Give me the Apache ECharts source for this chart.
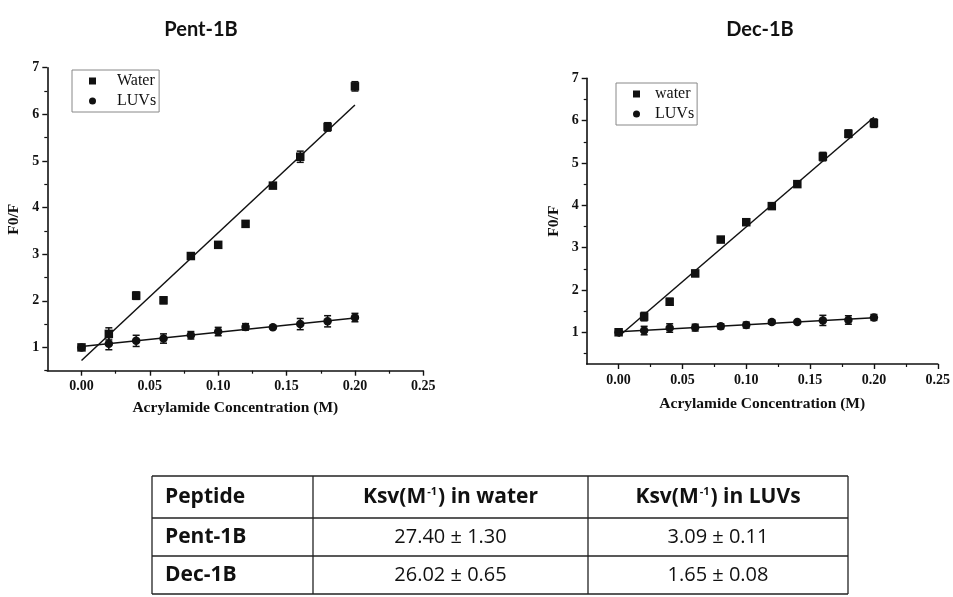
<!DOCTYPE html>
<html><head><meta charset="utf-8">
<script src="https://cdn.jsdelivr.net/npm/echarts@6/dist/echarts.min.js"></script>
<style>html,body{margin:0;padding:0;background:#fff}#c{width:953px;height:597px}</style>
</head><body><div id="c"></div>
<script>
// ---- data ----
const conc = [0, 0.02, 0.04, 0.06, 0.08, 0.10, 0.12, 0.14, 0.16, 0.18, 0.20];
const pentWater    = [1.00, 1.29, 2.11, 2.01, 2.96, 3.20, 3.65, 4.47, 5.09, 5.73, 6.60];
const pentWaterErr = [0.03, 0.13, 0.08, 0.07, 0.06, 0.04, 0.05, 0.04, 0.12, 0.09, 0.10];
const pentLuvs     = [1.00, 1.08, 1.14, 1.19, 1.26, 1.34, 1.44, 1.43, 1.50, 1.56, 1.64];
const pentLuvsErr  = [0.03, 0.13, 0.12, 0.10, 0.08, 0.09, 0.07, 0.03, 0.12, 0.12, 0.09];
const decWater     = [1.00, 1.37, 1.72, 2.39, 3.19, 3.60, 3.98, 4.50, 5.15, 5.69, 5.94];
const decWaterErr  = [0.03, 0.10, 0.08, 0.07, 0.04, 0.04, 0.04, 0.04, 0.10, 0.09, 0.10];
const decLuvs      = [1.00, 1.04, 1.10, 1.11, 1.14, 1.17, 1.24, 1.24, 1.28, 1.29, 1.35];
const decLuvsErr   = [0.03, 0.10, 0.10, 0.08, 0.06, 0.07, 0.05, 0.03, 0.12, 0.10, 0.07];
const fitX         = [0, 0.20];
const pentWaterFit = [0.72, 6.20];
const pentLuvsFit  = [1.02, 1.63];
const decWaterFit  = [0.90, 6.08];
const decLuvsFit   = [1.01, 1.34];
const xTicks      = [0, 0.05, 0.10, 0.15, 0.20, 0.25];
const xMinorTicks = [0.025, 0.075, 0.125, 0.175, 0.225];
const yTicks      = [1, 2, 3, 4, 5, 6, 7];
const yMinorTicks = [0.5, 1.5, 2.5, 3.5, 4.5, 5.5, 6.5];
const chartTitles = ['Pent-1B', 'Dec-1B'];
const tableHeader = ['Peptide', 'Ksv(M{sup|-1}) in water', 'Ksv(M{sup|-1}) in LUVs'];
const tablePeptides = ['Pent-1B', 'Dec-1B'];
const tableKsvWater = ['27.40 ± 1.30', '26.02 ± 0.65'];
const tableKsvLuvs  = ['3.09 ± 0.11', '1.65 ± 0.08'];

// ---- helpers ----
const pairs = (xs, ys) => xs.map((x, i) => [x, ys[i]]);
const errData = (xs, ys, es) => xs.map((x, i) => [x, ys[i] - es[i], ys[i] + es[i]]);
const serif = 'Liberation Serif';
const axisFont = {fontFamily: serif, fontWeight: 'bold', fontSize: 14, color: '#111'};
const nameFont = {fontFamily: serif, fontWeight: 'bold', fontSize: 15.5, color: '#111'};

function errorSeries(name, gi, data) {
  return {
    name: name, type: 'custom', xAxisIndex: gi * 2, yAxisIndex: gi * 2, data: data, z: 5,
    renderItem: function (params, api) {
      const x = api.value(0);
      const lo = api.coord([x, api.value(1)]);
      const hi = api.coord([x, api.value(2)]);
      const w = 3.5;
      const st = {stroke: '#111', lineWidth: 1.5};
      return {type: 'group', children: [
        {type: 'line', shape: {x1: lo[0], y1: lo[1], x2: hi[0], y2: hi[1]}, style: st},
        {type: 'line', shape: {x1: lo[0] - w, y1: lo[1], x2: lo[0] + w, y2: lo[1]}, style: st},
        {type: 'line', shape: {x1: hi[0] - w, y1: hi[1], x2: hi[0] + w, y2: hi[1]}, style: st}
      ]};
    }
  };
}
function xAxes(gi, gap) {
  const base = {type: 'value', gridIndex: gi, min: -0.025, max: 0.25, splitLine: {show: false}};
  return [
    Object.assign({}, base, {
      name: 'Acrylamide Concentration (M)', nameLocation: 'middle', nameGap: gap,
      nameTextStyle: nameFont,
      axisLine: {show: true, onZero: false, lineStyle: {color: '#111', width: 1.6}},
      axisTick: {show: true, customValues: xTicks, length: 5, lineStyle: {color: '#111', width: 1.4}},
      axisLabel: Object.assign({}, axisFont, {customValues: xTicks, margin: 9, formatter: v => v.toFixed(2)})
    }),
    Object.assign({}, base, {
      position: 'bottom', axisLine: {show: false, onZero: false},
      axisTick: {show: true, customValues: xMinorTicks, length: 3, lineStyle: {color: '#111', width: 1.2}},
      axisLabel: {show: false}
    })
  ];
}
function yAxes(gi, min) {
  const base = {type: 'value', gridIndex: gi, min: min, max: 7, splitLine: {show: false}};
  return [
    Object.assign({}, base, {
      name: 'F0/F', nameLocation: 'middle', nameGap: 25, nameRotate: 90,
      nameTextStyle: nameFont,
      axisLine: {show: true, onZero: false, lineStyle: {color: '#111', width: 1.6}},
      axisTick: {show: true, customValues: yTicks, length: 5, lineStyle: {color: '#111', width: 1.4}},
      axisLabel: Object.assign({}, axisFont, {customValues: yTicks, margin: 8})
    }),
    Object.assign({}, base, {
      position: 'left', axisLine: {show: false, onZero: false},
      axisTick: {show: true, customValues: yMinorTicks, length: 3, lineStyle: {color: '#111', width: 1.2}},
      axisLabel: {show: false}
    })
  ];
}
function chartSeries(gi, wName, w, we, l, le, wf, lf) {
  const ax = {xAxisIndex: gi * 2, yAxisIndex: gi * 2};
  return [
    Object.assign({name: wName, type: 'scatter', symbol: 'rect', symbolSize: 8.5, data: pairs(conc, w),
      itemStyle: {color: '#111', opacity: 1}, z: 4}, ax),
    Object.assign({name: 'LUVs', type: 'scatter', symbol: 'circle', symbolSize: 8.5, data: pairs(conc, l),
      itemStyle: {color: '#111', opacity: 1}, z: 4}, ax),
    errorSeries(wName, gi, errData(conc, w, we)),
    errorSeries('LUVs', gi, errData(conc, l, le)),
    Object.assign({name: wName + ' fit', type: 'line', data: pairs(fitX, wf), symbol: 'none',
      lineStyle: {color: '#111', width: 1.5}, z: 2}, ax),
    Object.assign({name: 'LUVs fit', type: 'line', data: pairs(fitX, lf), symbol: 'none',
      lineStyle: {color: '#111', width: 1.5}, z: 2}, ax)
  ];
}
function legend(names, left, top, textPad) {
  return {
    orient: 'vertical', left: left, top: top,
    data: [{name: names[0], icon: 'rect'}, {name: names[1], icon: 'circle'}],
    itemWidth: 7, itemHeight: 7, itemGap: 4,
    padding: [3, 3, 3, 17],
    borderColor: '#888', borderWidth: 1, borderRadius: 0,
    selectedMode: false,
    textStyle: {fontFamily: serif, fontSize: 16, color: '#111', lineHeight: 16, padding: [0, 0, 0, textPad]}
  };
}

// ---- table graphic ----
const tblX = [152, 313, 588, 848];
const tblY = [476, 518, 556, 594];
const tableGraphics = [];
const lineStyle = {stroke: '#222', lineWidth: 1.3};
tblX.forEach(x => tableGraphics.push({type: 'line', shape: {x1: x, y1: tblY[0], x2: x, y2: tblY[3]}, style: lineStyle}));
tblY.forEach(y => tableGraphics.push({type: 'line', shape: {x1: tblX[0], y1: y, x2: tblX[3], y2: y}, style: lineStyle}));
const tFont = 'Open Sans';
const supRich = {sup: {fontSize: 11, fontWeight: 'bold', fontFamily: tFont, fill: '#111', verticalAlign: 'top', padding: [0, 1, 8, 1]}};
function cellText(txt, col, row, bold) {
  const cx = col === 0 ? tblX[0] + 13 : (tblX[col] + tblX[col + 1]) / 2;
  const cy = (tblY[row] + tblY[row + 1]) / 2;
  return {type: 'text', x: cx, y: cy, style: {
    text: txt, x: 0, y: 0, align: col === 0 ? 'left' : 'center', verticalAlign: 'middle',
    fontFamily: tFont, fontSize: bold ? 21 : 20, fontWeight: bold ? 'bold' : 'normal', fill: '#111', rich: supRich
  }};
}
tableHeader.forEach((h, c) => tableGraphics.push(cellText(h, c, 0, true)));
tablePeptides.forEach((p, r) => {
  tableGraphics.push(cellText(p, 0, r + 1, true));
  tableGraphics.push(cellText(tableKsvWater[r], 1, r + 1, false));
  tableGraphics.push(cellText(tableKsvLuvs[r], 2, r + 1, false));
});

const titleFont = {fontFamily: 'Lato', fontWeight: 'bold', fontSize: 20, color: '#111'};
const option = {
  animation: false,
  backgroundColor: '#fff',
  title: [
    {text: chartTitles[0], left: 196, top: 15, textAlign: 'center', textStyle: titleFont},
    {text: chartTitles[1], left: 755, top: 15, textAlign: 'center', textStyle: titleFont}
  ],
  grid: [
    {left: 47.3, top: 67.7, width: 376, height: 303},
    {left: 586.7, top: 78.3, width: 353.3, height: 285.7}
  ],
  xAxis: [...xAxes(0, 29), ...xAxes(1, 32)],
  yAxis: [...yAxes(0, 0.5), ...yAxes(1, 0.25)],
  legend: [legend(['Water', 'LUVs'], 72, 70, 16), legend(['water', 'LUVs'], 616, 83, 10)],
  series: [
    ...chartSeries(0, 'Water', pentWater, pentWaterErr, pentLuvs, pentLuvsErr, pentWaterFit, pentLuvsFit),
    ...chartSeries(1, 'water', decWater, decWaterErr, decLuvs, decLuvsErr, decWaterFit, decLuvsFit)
  ],
  graphic: tableGraphics
};
const chart = echarts.init(document.getElementById('c'), null, {renderer: 'canvas'});
chart.setOption(option);
</script></body></html>
